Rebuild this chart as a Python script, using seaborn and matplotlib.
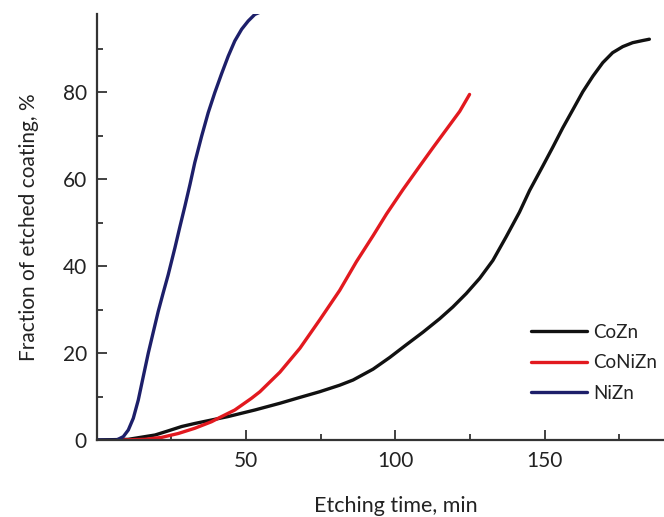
import numpy as np
import pandas as pd
import matplotlib
matplotlib.use("Agg")
import matplotlib.pyplot as plt
import seaborn as sns
from matplotlib.ticker import MultipleLocator

# ---- data ----
series_names = ["CoZn", "CoNiZn", "NiZn"]

cozn_time = [0, 10.6, 19.6, 24.0, 28.5, 32.9, 38.5, 44.1, 53.0, 61.4, 68.1,
             74.7, 81.4, 85.9, 92.6, 98.2, 103.7, 109.3, 114.9, 119.3, 123.8,
             128.3, 132.7, 137.2, 141.6, 145.0, 149.4, 152.8, 156.1, 159.5,
             162.8, 166.2, 169.5, 172.8, 176.2, 179.5, 182.9, 185.1]
cozn_frac = [0, 0.15, 1.15, 2.1, 3.1, 3.8, 4.6, 5.4, 6.9, 8.45, 9.8,
             11.1, 12.6, 13.8, 16.3, 19.0, 21.9, 24.8, 27.9, 30.6, 33.7,
             37.2, 41.3, 46.8, 52.4, 57.4, 63.0, 67.4, 71.8, 76.0,
             80.1, 83.7, 86.8, 89.1, 90.5, 91.4, 91.9, 92.2]

coniz_time = [8.4, 16.2, 21.8, 27.4, 32.9, 38.5, 41.9, 46.3, 51.9, 54.7, 61.4,
              68.1, 74.7, 81.4, 87.0, 92.6, 97.1, 102.6, 108.2, 112.6, 117.1,
              121.6, 124.9]
coniz_frac = [0, 0.15, 0.6, 1.5, 2.7, 4.2, 5.4, 6.9, 9.6, 11.1, 15.6,
              21.1, 27.6, 34.4, 41.0, 47.0, 52.0, 57.6, 63.0, 67.2, 71.4,
              75.6, 79.5]

nizn_time = [0, 6.75, 8.97, 10.65, 12.32, 13.99, 15.66, 17.34, 19.0, 20.67,
             22.35, 24.0, 26.25, 27.9, 29.6, 31.3, 32.9, 35.2, 37.4, 39.6,
             41.9, 44.1, 46.3, 48.6, 50.8, 53.0, 56.0]
nizn_frac = [0, 0, 0.77, 2.3, 5.0, 9.2, 14.6, 20.0, 24.8, 29.6,
             33.9, 38.0, 44.2, 49.0, 53.8, 58.8, 63.8, 69.9, 75.3, 79.9,
             84.3, 88.3, 91.8, 94.5, 96.4, 97.9, 98.8]

x_ticks = [50, 100, 150]
y_ticks = [0, 20, 40, 60, 80]
x_label = "Etching time, min"
y_label = "Fraction of etched coating, %"

colors = {"CoZn": "#111111", "CoNiZn": "#e2191f", "NiZn": "#1d1f6a"}

df = pd.concat([
    pd.DataFrame({"t": cozn_time, "f": cozn_frac, "s": "CoZn"}),
    pd.DataFrame({"t": coniz_time, "f": coniz_frac, "s": "CoNiZn"}),
    pd.DataFrame({"t": nizn_time, "f": nizn_frac, "s": "NiZn"}),
], ignore_index=True)

sns.set_style("ticks")
plt.rcParams["font.family"] = ["Lato", "DejaVu Sans"]

fig = plt.figure(figsize=(6.64, 5.17), dpi=100)
ax = fig.add_axes([96.5 / 664, 1 - 440 / 517, 1 - 96.5 / 664, (440 - 14) / 517])

sns.lineplot(data=df, x="t", y="f", hue="s", hue_order=series_names,
             palette=colors, sort=False, estimator=None, linewidth=2.4,
             ax=ax)
for ln in ax.get_lines():
    ln.set_solid_joinstyle("round")
    ln.set_solid_capstyle("round")

ax.set_xlim(0, 190)
ax.set_ylim(0, 98)
ax.set_xticks(x_ticks)
ax.set_yticks(y_ticks)
ax.xaxis.set_minor_locator(MultipleLocator(25))
ax.yaxis.set_minor_locator(MultipleLocator(10))
ax.tick_params(which="major", direction="in", length=7, width=1.3,
               labelsize=15, colors="#333333", labelcolor="#222222", pad=8)
ax.tick_params(which="minor", direction="in", length=4, width=1.3, colors="#333333")
ax.tick_params(axis="y", which="major", pad=7)
for side in ["top", "right"]:
    ax.spines[side].set_visible(False)
for side in ["left", "bottom"]:
    ax.spines[side].set_linewidth(1.6)
    ax.spines[side].set_color("#333333")

ax.set_xlabel(x_label, fontsize=15.5, color="#222222")
ax.xaxis.set_label_coords((396 - 96.5) / 567.5, -(496 - 440) / 426)
ax.set_ylabel(y_label, fontsize=15, color="#222222", labelpad=17)

leg = ax.legend(loc="upper left", bbox_to_anchor=(531 / 664, 1 - 324 / 517),
                bbox_transform=fig.transFigure, frameon=False, fontsize=13.5,
                handlelength=3.0, handletextpad=0.3, labelspacing=0.72,
                borderpad=0, borderaxespad=0)
for t in leg.get_texts():
    t.set_color("#222222")

fig.savefig("out.png", dpi=100)
